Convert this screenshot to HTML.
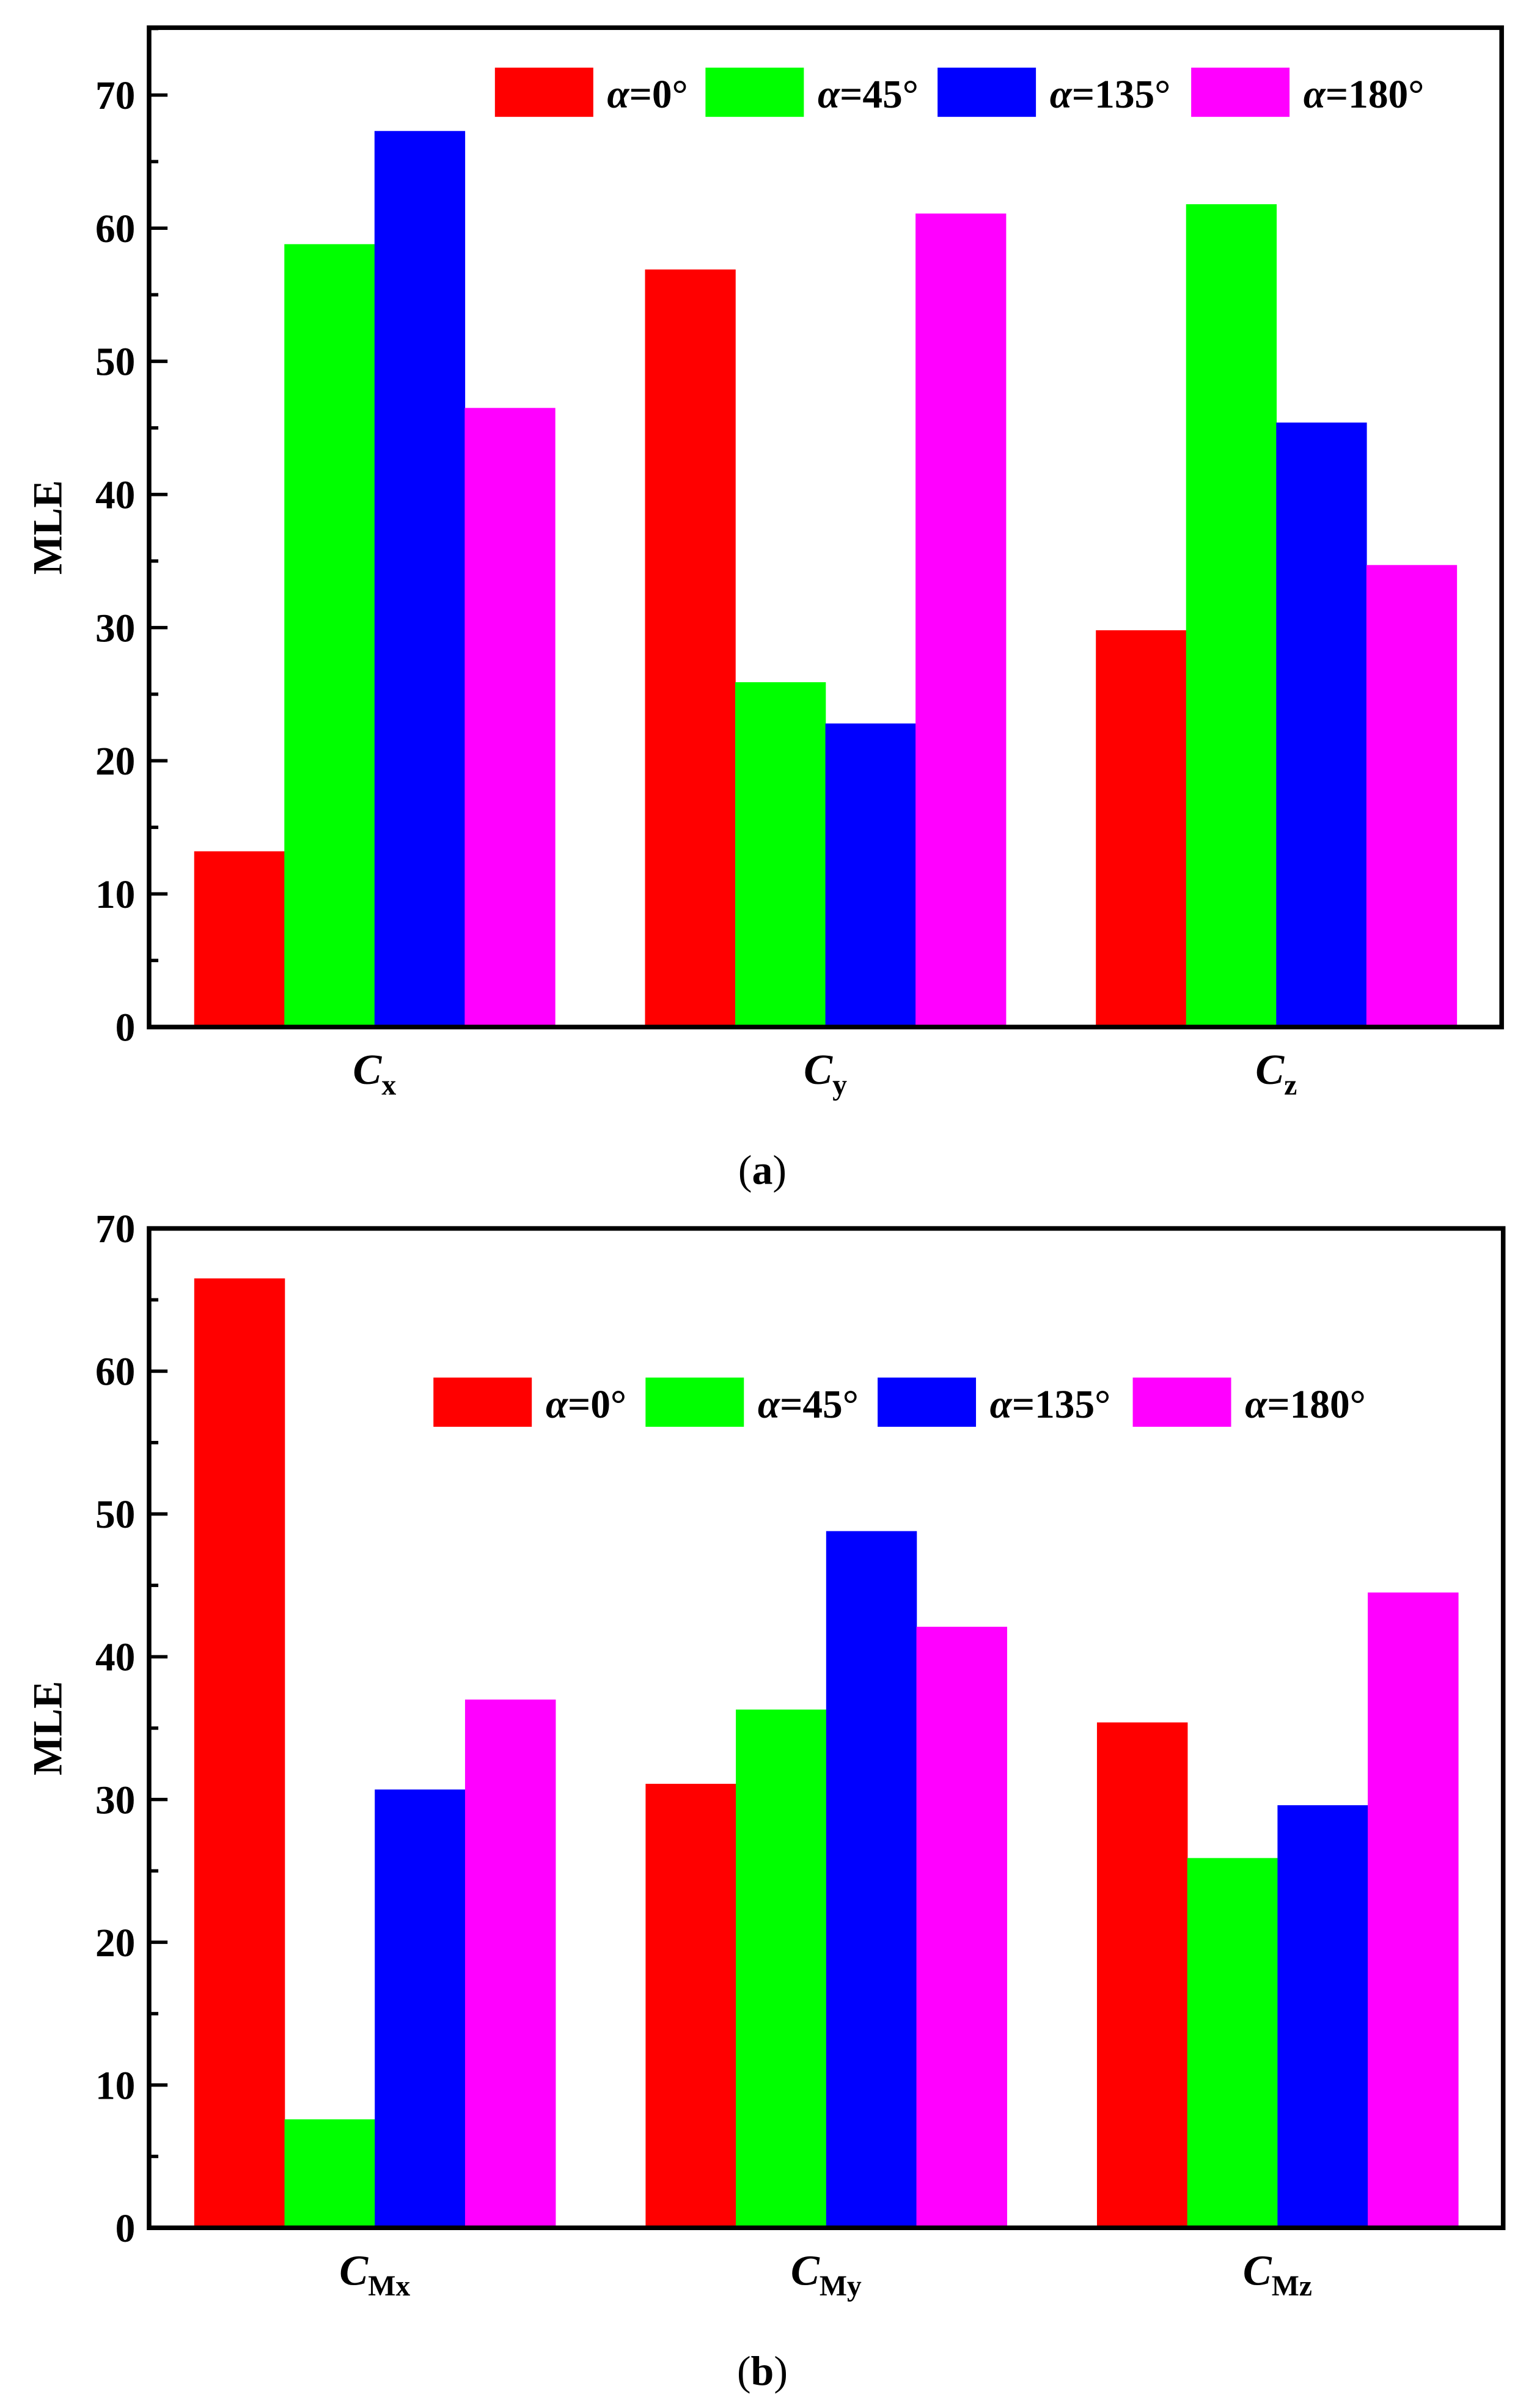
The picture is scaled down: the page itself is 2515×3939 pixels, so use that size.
<!DOCTYPE html>
<html><head><meta charset="utf-8"><style>
html,body{margin:0;padding:0;background:#fff;}
svg{display:block;}
text{font-family:"Liberation Serif",serif;font-weight:bold;fill:#000;}
</style></head><body>
<svg id="fig" xmlns="http://www.w3.org/2000/svg" width="2515" height="3939" viewBox="0 0 1000 1566.2"></svg>
<script>
const seriesLabels = ["0", "45", "135", "180"];
const seriesColors = ["#ff0000", "#00ff00", "#0000ff", "#ff00ff"];
const catsA = [["C","x"],["C","y"],["C","z"]];
const valsA0 = [13.2, 56.9, 29.8];
const valsA45 = [58.8, 25.9, 61.8];
const valsA135 = [67.3, 22.8, 45.4];
const valsA180 = [46.5, 61.1, 34.7];
const catsB = [["C","Mx"],["C","My"],["C","Mz"]];
const valsB0 = [66.5, 31.1, 35.4];
const valsB45 = [7.6, 36.3, 25.9];
const valsB135 = [30.7, 48.8, 29.6];
const valsB180 = [37.0, 42.1, 44.5];
const yTicksA = [0,10,20,30,40,50,60,70];
const yTicksB = [0,10,20,30,40,50,60,70];

const NS = "http://www.w3.org/2000/svg";
const svg = document.getElementById("fig");
function mk(tag, attrs, parent){
  const e = document.createElementNS(NS, tag);
  for (const k in attrs) e.setAttribute(k, attrs[k]);
  (parent||svg).appendChild(e);
  return e;
}

function chart(cfg){
  const g = mk("g", {});
  
  
  const L=cfg.left, R=cfg.right, T=cfg.top, B=cfg.bottom;
  const y = v => B - v / cfg.ymax * (B - T);
  const bw = (R - L) / cfg.cats.length * 0.8 / 4;
  cfg.series.forEach((vals, si) => {
    vals.forEach((v, ci) => {
      const cx = L + (ci + 0.5) * ((R - L) / cfg.cats.length);
      const bx = cx - 2 * bw + si * bw;
      const r = mk("rect", {x: bx, y: y(v), width: bw + 0.3, height: B - y(v), fill: seriesColors[si]}, g);
      
      
    });
  });
  for (let v = 0; v <= cfg.ymax; v += 5) {
    const major = v % 10 === 0;
    const t = mk("line", {x1: L, x2: L + (major ? 12 : 6), y1: y(v), y2: y(v), stroke: "#000", "stroke-width": 2.2}, g);
    
    
  }
  cfg.ticks.forEach(v => {
    const t = mk("text", {x: L - 9, y: y(v) + 9, "text-anchor": "end", "font-size": 26}, g);
    t.textContent = v;
    
    
  });
  const f = mk("rect", {x: L, y: T, width: R - L, height: B - T, fill: "none", stroke: "#000", "stroke-width": 3}, g);
  
  
  const yt = mk("text", {x: 0, y: 0, "font-size": 27, "text-anchor": "middle", transform: "translate(40," + ((T + B) / 2) + ") rotate(-90)"}, g);
  yt.textContent = "MLE";
  
  
  cfg.cats.forEach((c, ci) => {
    const cx = L + (ci + 0.5) * ((R - L) / cfg.cats.length);
    const t = mk("text", {x: cx, y: B + 37, "text-anchor": "middle", "font-size": 28}, g);
    const s1 = mk("tspan", {"font-style": "italic"}, t); s1.textContent = c[0];
    const s2 = mk("tspan", {"font-size": 19, dy: 7}, t); s2.textContent = c[1];
    
    
  });
  cfg.legend.forEach((lx, si) => {
    const sw = mk("rect", {x: lx, y: cfg.legY, width: 64, height: 32, fill: seriesColors[si]}, g);
    
    
    const t = mk("text", {x: lx + 73, y: cfg.legY + 26, "font-size": 26}, g);
    const a = mk("tspan", {"font-style": "italic"}, t); a.textContent = "α";
    const b = mk("tspan", {}, t); b.textContent = "=" + seriesLabels[si] + "°";
    
    
  });
  const cap = mk("text", {x: 496, y: cfg.capY, "text-anchor": "middle", "font-size": 27}, g);
  cap.setAttribute("style", "font-weight:normal");
  const p1 = mk("tspan", {}, cap); p1.textContent = "(";
  const p2 = mk("tspan", {"font-weight": "bold"}, cap); p2.textContent = cfg.cap;
  const p3 = mk("tspan", {}, cap); p3.textContent = ")";
  
  
}

chart({name: "chart-a", left: 97, right: 977, top: 18, bottom: 668, ymax: 75.06,
  cats: catsA, series: [valsA0, valsA45, valsA135, valsA180], ticks: yTicksA,
  legend: [322, 459, 610, 775], legY: 44, capY: 770, cap: "a"});
chart({name: "chart-b", left: 97, right: 978, top: 799, bottom: 1449, ymax: 70,
  cats: catsB, series: [valsB0, valsB45, valsB135, valsB180], ticks: yTicksB,
  legend: [282, 420, 571, 737], legY: 896, capY: 1551, cap: "b"});
</script>
</body></html>
